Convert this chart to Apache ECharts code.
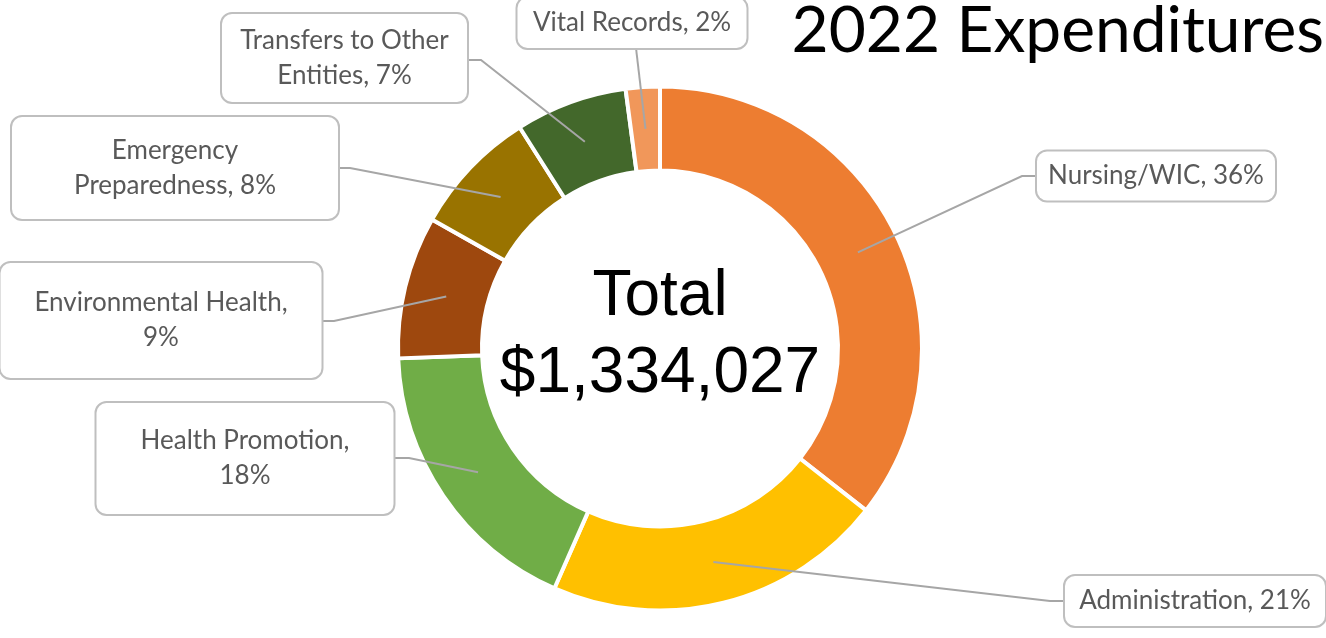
<!DOCTYPE html>
<html><head><meta charset="utf-8">
<script src="https://cdn.jsdelivr.net/npm/echarts@6/dist/echarts.min.js"></script>
<style>html,body{margin:0;padding:0;background:#fff}#chart{width:1326px;height:638px}</style>
</head><body><div id="chart"></div>
<script>
// ---- data ----
const categories = ['Nursing/WIC', 'Administration', 'Health Promotion', 'Environmental Health', 'Emergency Preparedness', 'Transfers to Other Entities', 'Vital Records'];
const values = [474914, 280146, 237457, 117394, 104054, 92048, 28014];
const labelNames = ['Nursing/WIC', 'Administration', 'Health Promotion', 'Environmental Health', 'Emergency\nPreparedness', 'Transfers to Other\nEntities', 'Vital Records'];
const pctSeparator = [' ', ' ', '\n', '\n', ' ', ' ', ' '];
const titleText = '2022 Expenditures';
const centerCaption = 'Total';

// ---- styles / layout ----
const colors = ['#ED7D31', '#FFC000', '#70AD47', '#9E480E', '#997300', '#43682B', '#F1975A'];
const CX = 660, CY = 348.5, R0 = 178, R1 = 262, RLINE = 220;
const boxes = [
  {x: 1156, y: 176, w: 238, h: 49, bend: [1022, 176], end: [1037, 176]},
  {x: 1195, y: 601, w: 260, h: 50, bend: [1050, 601], end: [1065, 601]},
  {x: 245, y: 458.5, w: 297, h: 111, bend: [409, 458], end: [394, 458]},
  {x: 161, y: 320.5, w: 321, h: 115, bend: [334, 321], end: [322, 321]},
  {x: 175, y: 168, w: 326, h: 102, bend: [350, 168], end: [338, 168]},
  {x: 344.5, y: 58, w: 245, h: 88, bend: [481, 60], end: [467, 60]},
  {x: 632, y: 23, w: 229, h: 50, bend: [636, 48], end: [636, 48]}
];

const total = values.reduce((a, b) => a + b, 0);
function lineStart(i) {
  let before = 0;
  for (let k = 0; k < i; k++) before += values[k];
  const a = (before + values[i] / 2) / total * Math.PI * 2;
  return [CX + RLINE * Math.sin(a), CY - RLINE * Math.cos(a)];
}

const ringData = categories.map((name, i) => ({name: name, value: values[i]}));
const labelData = categories.map((name, i) => ({
  name: name,
  value: values[i],
  label: {width: boxes[i].w, height: boxes[i].h}
}));

const chart = echarts.init(document.getElementById('chart'), null, {renderer: 'canvas'});
chart.setOption({
  animation: false,
  color: colors,
  graphic: [
    {type: 'text', x: 1324, y: 31, z: 10, style: {text: titleText, font: '64px Lato', fill: '#000', textAlign: 'right', textVerticalAlign: 'middle'}},
    {type: 'text', x: 660, y: 336, z: 10, style: {text: centerCaption + '\n$' + total.toLocaleString('en-US'), font: '64px "Liberation Sans"', lineHeight: 77, fill: '#000', textAlign: 'center', textVerticalAlign: 'middle'}}
  ],
  series: [{
    type: 'pie',
    z: 2,
    center: [CX, CY],
    radius: [R0, R1],
    startAngle: 90,
    clockwise: true,
    silent: true,
    emphasis: {disabled: true},
    itemStyle: {borderColor: '#fff', borderWidth: 4},
    label: {show: false},
    labelLine: {show: false},
    data: ringData
  }, {
    type: 'pie',
    z: 5,
    center: [CX, CY],
    radius: [R0, R1],
    startAngle: 90,
    clockwise: true,
    silent: true,
    avoidLabelOverlap: false,
    emphasis: {disabled: true},
    itemStyle: {color: 'rgba(0,0,0,0)', borderWidth: 0},
    label: {
      show: true,
      position: 'outside',
      formatter: p => labelNames[p.dataIndex] + ',' + pctSeparator[p.dataIndex] + Math.round(p.percent) + '%',
      fontFamily: 'Lato',
      fontSize: 26,
      lineHeight: 35,
      color: '#595959',
      align: 'center',
      backgroundColor: '#fff',
      borderColor: '#bfbfbf',
      borderWidth: 2,
      borderRadius: 10,
      padding: 0
    },
    labelLine: {show: true, length: 10, length2: 10, smooth: false, lineStyle: {color: '#a6a6a6', width: 2}},
    labelLayout: function (p) {
      const b = boxes[p.dataIndex];
      return {x: b.x, y: b.y, align: 'center', verticalAlign: 'middle', labelLinePoints: [lineStart(p.dataIndex), b.bend, b.end]};
    },
    data: labelData
  }]
});
</script></body></html>
